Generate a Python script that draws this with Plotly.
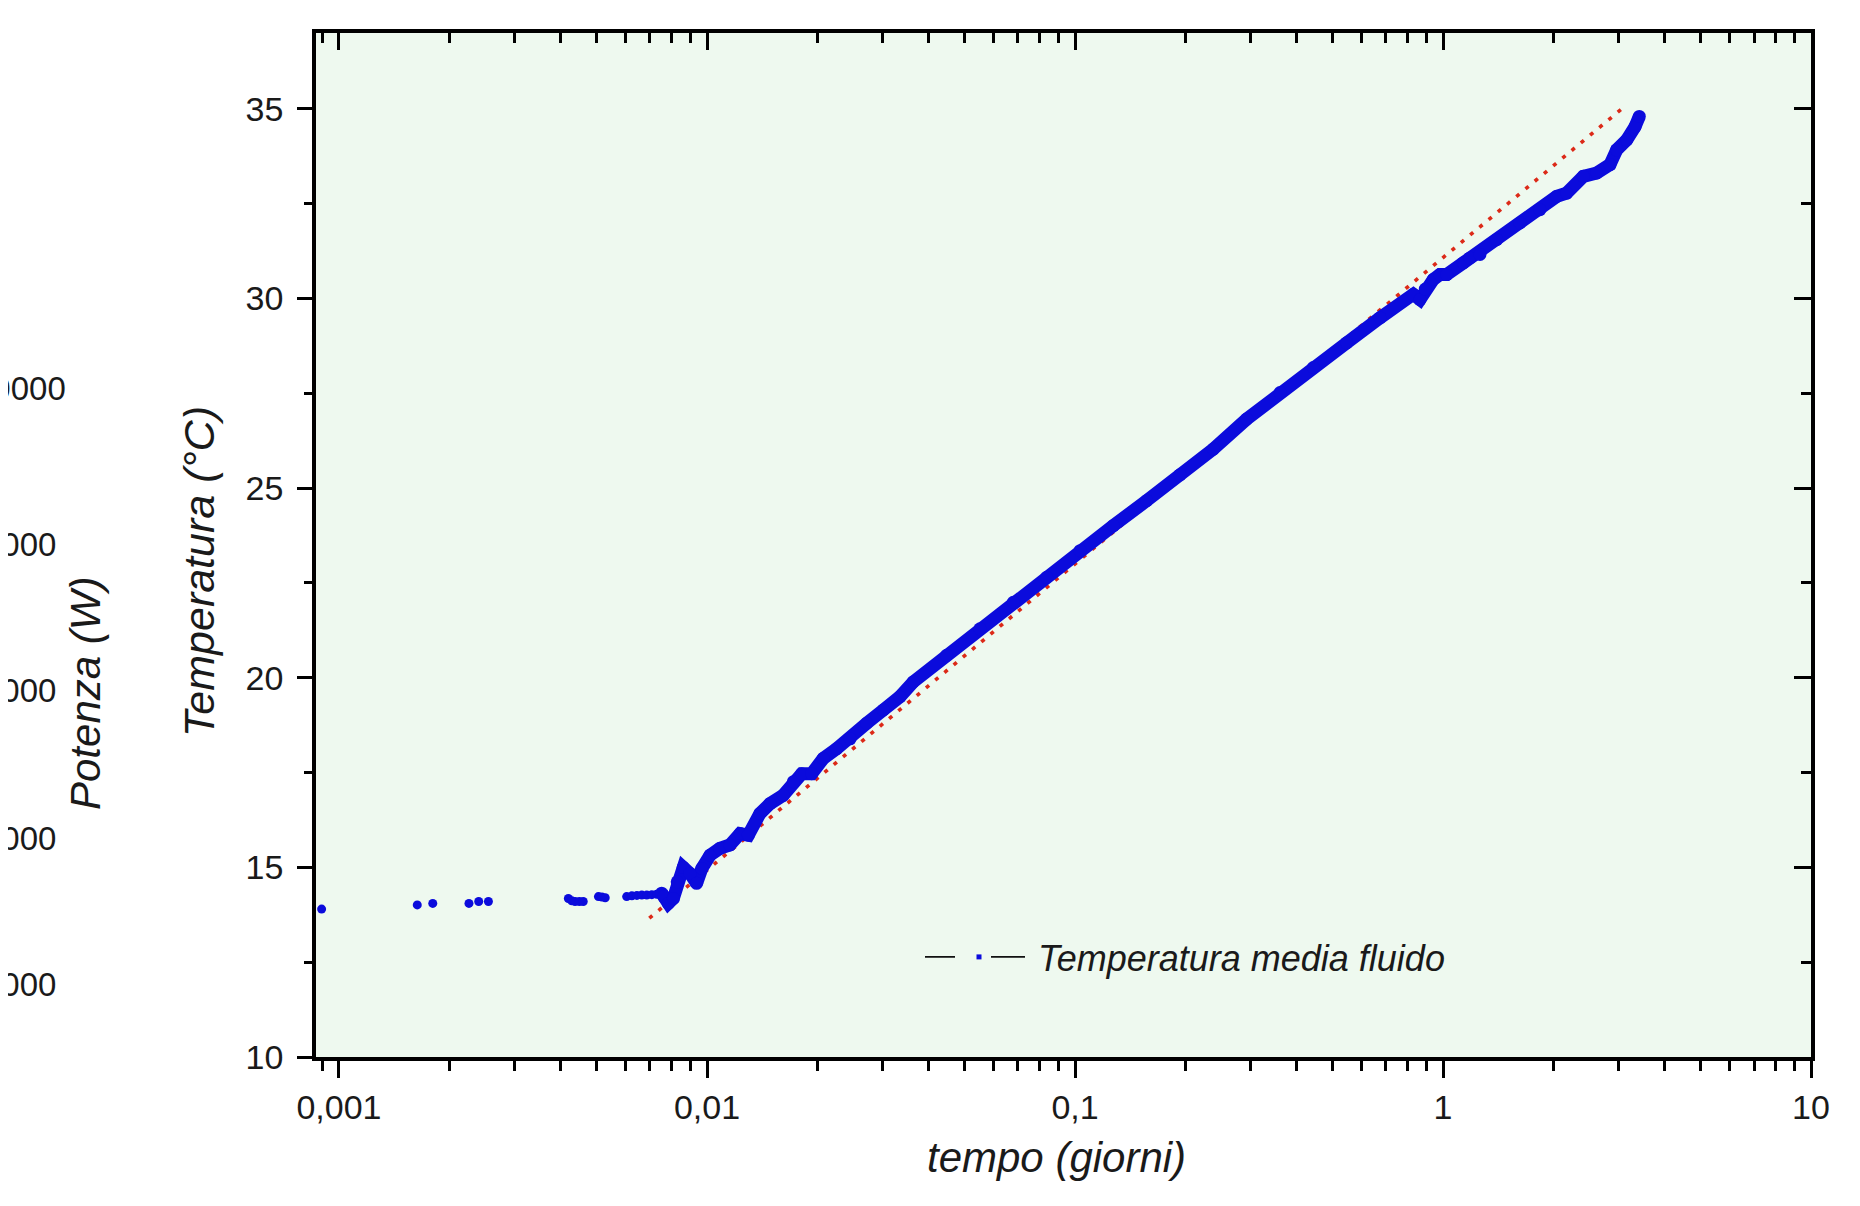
import plotly.graph_objects as go
import math

# ---- data ----
# sparse early readings (tempo in giorni, temperatura in °C)
early_t = [0.000897, 0.001632, 0.001798, 0.002255, 0.002397, 0.002547,
           0.00420, 0.00429, 0.00438, 0.00450, 0.00461,
           0.00507, 0.00518, 0.00529,
           0.00605, 0.00625, 0.00645, 0.00665, 0.00686, 0.00708, 0.00730, 0.00753]
early_T = [13.90, 14.01, 14.05, 14.05, 14.10, 14.10,
           14.18, 14.12, 14.10, 14.10, 14.10,
           14.23, 14.22, 14.20,
           14.23, 14.25, 14.26, 14.27, 14.27, 14.28, 14.29, 14.32]

# dense readings (appear as a continuous band)
dense_t = [0.00753, 0.00764, 0.00785, 0.00810, 0.00830, 0.00862, 0.00899, 0.00937,
           0.00968, 0.01019, 0.01084, 0.01154, 0.01230, 0.01295, 0.01393, 0.01483,
           0.01611, 0.01717, 0.01809, 0.01925, 0.02069, 0.02251, 0.02448, 0.02716,
           0.03014, 0.03345, 0.03635, 0.04478, 0.05517, 0.06797, 0.08376, 0.1032,
           0.1271, 0.1566, 0.1929, 0.2376, 0.2928, 0.3607, 0.4442, 0.5474,
           0.6742, 0.8303, 0.866, 0.895, 0.941, 0.981, 1.0235, 1.1355,
           1.184, 1.2605, 1.399, 1.619, 1.834, 2.037, 2.168, 2.406,
           2.617, 2.843, 2.965, 3.157, 3.325, 3.415]
dense_T = [14.32, 14.23, 14.05, 14.18, 14.62, 15.00, 14.84, 14.58,
           14.97, 15.32, 15.50, 15.59, 15.89, 15.85, 16.42, 16.68,
           16.90, 17.26, 17.47, 17.47, 17.87, 18.13, 18.39, 18.80,
           19.15, 19.50, 19.89, 20.59, 21.29, 21.99, 22.65, 23.35,
           24.01, 24.67, 25.35, 26.03, 26.82, 27.52, 28.18, 28.83,
           29.49, 30.11, 29.97, 30.25, 30.50, 30.63, 30.63, 30.94,
           31.07, 31.16, 31.55, 31.99, 32.34, 32.69, 32.78, 33.22,
           33.31, 33.53, 33.92, 34.18, 34.53, 34.80]

# fitted straight line (semi-log)
fit_t = [0.00697, 3.06]
fit_T = [13.66, 35.0]

x_tick_vals = [0.001, 0.01, 0.1, 1, 10]
x_tick_text = ["0,001", "0,01", "0,1", "1", "10"]
y_tick_vals = [10, 15, 20, 25, 30, 35]

left_fragment_labels = ["10000", "8000", "6000", "4000", "2000"]

# ---- layout geometry (page has an 8px body margin) ----
OFF = 8
W, H = 1860 - OFF, 1206 - OFF
L, T = 316 - OFF, 33 - OFF
R = W - (1811 - OFF)
B = H - (1057 - OFF)
PW, PH = W - L - R, H - T - B
FONT = "Liberation Sans, Arial, Helvetica, sans-serif"
BLUE = "#0B0BDC"
BG = "#EEF9EF"


def px_x(px):
    return (px - OFF - L) / PW


def px_y(py):
    return (H - B - (py - OFF)) / PH


x_range = [math.log10(0.000866), 1]
y_range = [10, 37]

minor_x = [m * 10 ** k for k in range(-4, 1) for m in range(2, 10)]
minor_x = [v for v in minor_x if 0.000866 < v < 10]

fig = go.Figure()

fig.add_trace(go.Scatter(
    x=fit_t, y=fit_T, mode="lines",
    line=dict(color="#DC2A18", width=3.6, dash="4px,8px"),
    showlegend=False, hoverinfo="skip"))

fig.add_trace(go.Scatter(
    x=early_t, y=early_T, mode="markers",
    marker=dict(color=BLUE, size=9),
    showlegend=False))

fig.add_trace(go.Scatter(
    x=dense_t, y=dense_T, mode="lines+markers",
    line=dict(color=BLUE, width=13),
    marker=dict(color=BLUE, size=13),
    showlegend=False))

# legend entry
fig.add_trace(go.Scatter(
    x=[None], y=[None], mode="lines+markers",
    name="Temperatura media fluido",
    line=dict(color="#111111", width=1.6, dash="30px,36px,34px,200px"),
    marker=dict(color=BLUE, size=5, symbol="square"),
    showlegend=True))

# dummy trace for mirrored (inside) tick axes
fig.add_trace(go.Scatter(x=[None], y=[None], xaxis="x2", yaxis="y2",
                         showlegend=False, hoverinfo="skip"))

tickfont = dict(family=FONT, size=34, color="#1a1a1a")

fig.update_layout(
    width=W, height=H, autosize=False,
    margin=dict(l=L, r=R, t=T, b=B, pad=0),
    paper_bgcolor="white",
    plot_bgcolor=BG,
    showlegend=True,
    legend=dict(x=px_x(920), y=px_y(957), xanchor="left", yanchor="middle",
                bgcolor="rgba(0,0,0,0)", borderwidth=0, itemwidth=108,
                font=dict(family=FONT, size=36, color="#1a1a1a", style="italic")),
    xaxis=dict(type="log", range=x_range, showgrid=False, zeroline=False,
               showline=True, linecolor="black", linewidth=3.5, mirror=True,
               ticks="outside", ticklen=17, tickwidth=3, tickcolor="black",
               tickmode="array", tickvals=x_tick_vals, ticktext=x_tick_text,
               tickfont=tickfont, ticklabelstandoff=0,
               minor=dict(tickmode="array", tickvals=minor_x, ticks="outside",
                          ticklen=10, tickwidth=3, tickcolor="black", showgrid=False)),
    yaxis=dict(range=y_range, showgrid=False, zeroline=False,
               showline=True, linecolor="black", linewidth=3.5, mirror=True,
               ticks="outside", ticklen=15, tickwidth=3, tickcolor="black",
               tickmode="array", tickvals=y_tick_vals,
               tickfont=tickfont, ticklabelstandoff=7,
               minor=dict(dtick=2.5, tick0=10, ticks="outside", ticklen=8,
                          tickwidth=3, tickcolor="black", showgrid=False)),
    xaxis2=dict(type="log", range=x_range, overlaying="x", side="top",
                anchor="y", showgrid=False, zeroline=False, showline=False,
                ticks="inside", ticklen=17, tickwidth=3, tickcolor="black",
                tickmode="array", tickvals=x_tick_vals, showticklabels=False,
                minor=dict(tickmode="array", tickvals=minor_x, ticks="inside",
                           ticklen=10, tickwidth=3, tickcolor="black", showgrid=False)),
    yaxis2=dict(range=y_range, overlaying="y", side="right", anchor="x",
                showgrid=False, zeroline=False, showline=False,
                ticks="inside", ticklen=17, tickwidth=3, tickcolor="black",
                tickmode="array", tickvals=y_tick_vals, showticklabels=False,
                minor=dict(dtick=2.5, tick0=10, ticks="inside", ticklen=10,
                           tickwidth=3, tickcolor="black", showgrid=False)),
)

annotations = [
    dict(text="Temperatura (°C)", x=px_x(199), y=px_y(572), textangle=-90,
         font=dict(family=FONT, size=43, color="#1a1a1a", style="italic")),
    dict(text="tempo (giorni)", x=px_x(1056), y=px_y(1157),
         font=dict(family=FONT, size=42, color="#1a1a1a", style="italic")),
    dict(text="Potenza (W)", x=px_x(85), y=px_y(694), textangle=-90,
         font=dict(family=FONT, size=42, color="#1a1a1a", style="italic")),
]
frag_y = [388, 544, 690, 838, 984]
frag_right = [68, 58, 58, 58, 58]
for lab, fy, fr in zip(left_fragment_labels, frag_y, frag_right):
    annotations.append(dict(text=lab, x=px_x(fr), y=px_y(fy), xanchor="right",
                            font=dict(family=FONT, size=33, color="#1a1a1a")))
for a in annotations:
    a.setdefault("xanchor", "center")
    a.update(xref="paper", yref="paper", yanchor="middle", showarrow=False)
fig.update_layout(annotations=annotations)

fig.write_html("out.html")
